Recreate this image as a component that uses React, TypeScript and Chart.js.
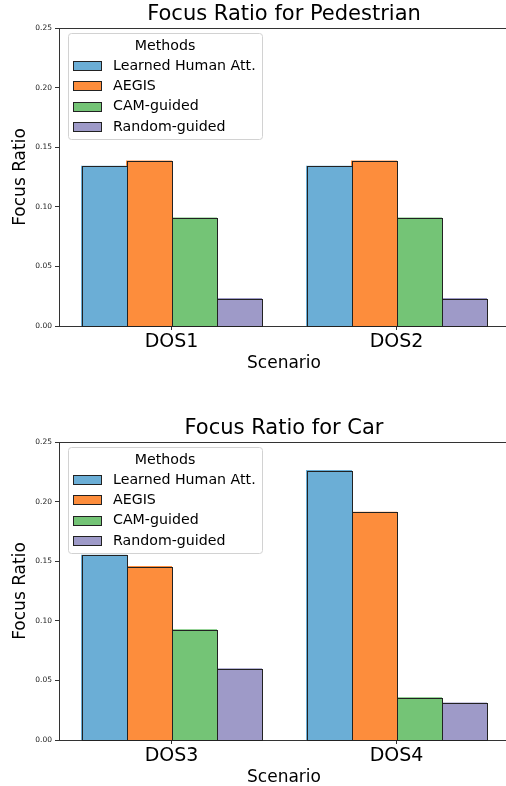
import React, { useEffect, useRef } from 'react';
import { Chart, registerables } from 'chart.js';

Chart.register(...registerables);

// ---------- data ----------
const pedTitle = 'Focus Ratio for Pedestrian';
const carTitle = 'Focus Ratio for Car';
const pedCategories = ['DOS1', 'DOS2'];
const carCategories = ['DOS3', 'DOS4'];
const methodNames = ['Learned Human Att.', 'AEGIS', 'CAM-guided', 'Random-guided'];
const methodColors = ['#6baed6', '#fd8d3c', '#74c476', '#9e9ac8'];
const legendTitle = 'Methods';
const xAxisTitle = 'Scenario';
const yAxisTitle = 'Focus Ratio';
const yTicks = [0, 0.05, 0.1, 0.15, 0.2, 0.25];

const pedLearned = [0.134, 0.134];
const pedAegis = [0.1385, 0.1385];
const pedCam = [0.0905, 0.0905];
const pedRandom = [0.023, 0.023];

const carLearned = [0.155, 0.226];
const carAegis = [0.1455, 0.191];
const carCam = [0.0925, 0.0355];
const carRandom = [0.0598, 0.031];

const FONT = "'DejaVu Sans', sans-serif";

// crisp outlines around each bar element (geometry from Chart.js elements)
const barOutline = {
  id: 'barOutline',
  afterDatasetsDraw(chart: any) {
    const { ctx } = chart;
    ctx.save();
    ctx.strokeStyle = '#222';
    ctx.lineWidth = 1;
    chart.getSortedVisibleDatasetMetas().forEach((meta: any) => {
      meta.data.forEach((el: any) => {
        const { x, y, base, width } = el.getProps(['x', 'y', 'base', 'width'], true);
        const l = Math.round(x - width / 2);
        const r = Math.round(x + width / 2);
        const t = Math.round(Math.min(y, base));
        const b = Math.round(Math.max(y, base));
        ctx.strokeRect(l + 0.5, t + 0.5, r - l, b - t);
      });
    });
    ctx.restore();
  },
};

const boxLegend = {
  id: 'boxLegend',
  afterDatasetsDraw(chart: any) {
    const { ctx, chartArea } = chart;
    const x = Math.round(chartArea.left + 9);
    const y = Math.round(chartArea.top + 5);
    const w = 194;
    const h = 106;
    ctx.save();
    ctx.beginPath();
    ctx.roundRect(x + 0.5, y + 0.5, w, h, 3);
    ctx.fillStyle = 'rgba(255,255,255,0.85)';
    ctx.fill();
    ctx.strokeStyle = '#d2d2d2';
    ctx.lineWidth = 1;
    ctx.stroke();
    ctx.fillStyle = '#000';
    ctx.font = `14.2px ${FONT}`;
    ctx.textBaseline = 'middle';
    ctx.textAlign = 'center';
    ctx.fillText(legendTitle, x + w / 2, y + 13);
    ctx.textAlign = 'left';
    chart.data.datasets.forEach((ds: any, i: number) => {
      const cy = y + 33 + i * 20.3;
      ctx.fillStyle = ds.backgroundColor;
      ctx.fillRect(x + 5, Math.round(cy - 5), 29, 10);
      ctx.strokeStyle = '#222';
      ctx.strokeRect(x + 5.5, Math.round(cy - 5) + 0.5, 28, 9);
      ctx.fillStyle = '#000';
      ctx.fillText(ds.label, x + 45, cy);
    });
    ctx.restore();
  },
};

const topSpine = {
  id: 'topSpine',
  afterDraw(chart: any) {
    const { ctx, chartArea } = chart;
    ctx.save();
    ctx.strokeStyle = '#333';
    ctx.lineWidth = 1;
    const yy = Math.floor(chartArea.top) + 0.5;
    ctx.beginPath();
    ctx.moveTo(chartArea.left, yy);
    ctx.lineTo(chartArea.right, yy);
    ctx.stroke();
    ctx.restore();
  },
};

const CANVAS_W = 509;
const CANVAS_H = 414;

function BarPanel({ title, categories, series }: { title: string; categories: string[]; series: number[][] }) {
  const ref = useRef<HTMLCanvasElement | null>(null);
  useEffect(() => {
    if (!ref.current) return;
    const chart = new Chart(ref.current, {
      type: 'bar',
      data: {
        labels: categories,
        datasets: series.map((vals, i) => ({
          label: methodNames[i],
          data: vals,
          backgroundColor: methodColors[i],
          borderWidth: 0,
          borderSkipped: false,
          inflateAmount: 0.5,
          categoryPercentage: 0.8,
          barPercentage: 1.0,
        })),
      },
      options: {
        responsive: false,
        animation: false,
        devicePixelRatio: 1,
        layout: { padding: 0 },
        plugins: {
          legend: { display: false },
          tooltip: { enabled: false },
          title: {
            display: true,
            text: title,
            fullSize: false,
            color: '#000',
            font: { family: FONT, size: 21, weight: 'normal', lineHeight: 1.2 },
            padding: { top: 1.5, bottom: 1.3 },
          },
        },
        scales: {
          x: {
            type: 'category',
            offset: true,
            grid: { offset: false, drawOnChartArea: false, drawTicks: true, tickLength: 4, tickColor: '#333' },
            border: { display: true, color: '#333', width: 1 },
            ticks: { color: '#000', font: { family: FONT, size: 19 }, padding: 1, maxRotation: 0 },
            title: {
              display: true,
              text: xAxisTitle,
              color: '#000',
              font: { family: FONT, size: 17 },
              padding: { top: 0, bottom: 40.5 },
            },
            afterFit: (s: any) => {
              s.height = 88;
            },
          },
          y: {
            min: 0,
            max: 0.25,
            afterBuildTicks: (s: any) => {
              s.ticks = yTicks.map((v) => ({ value: v }));
            },
            grid: { drawOnChartArea: false, drawTicks: true, tickLength: 4, tickColor: '#333' },
            border: { display: true, color: '#333', width: 1 },
            ticks: {
              color: '#222',
              font: { family: FONT, size: 7.5 },
              padding: 3,
              callback: (v: any) => Number(v).toFixed(2),
            },
            title: {
              display: true,
              text: yAxisTitle,
              color: '#000',
              font: { family: FONT, size: 17 },
              padding: { top: 10, bottom: 0 },
            },
            afterFit: (s: any) => {
              s.width = 59;
            },
          },
        },
      } as any,
      plugins: [barOutline, boxLegend, topSpine],
    });
    return () => chart.destroy();
  }, []);
  return (
    <canvas
      ref={ref}
      width={CANVAS_W}
      height={CANVAS_H}
      style={{ display: 'block', width: CANVAS_W, height: CANVAS_H }}
    />
  );
}

export default function App() {
  return (
    <div style={{ position: 'absolute', left: 0, top: 0, width: 506, height: 786, overflow: 'hidden', background: '#fff' }}>
      <div style={{ position: 'absolute', left: 0, top: 0, width: 506, height: 414, overflow: 'hidden' }}>
        <BarPanel title={pedTitle} categories={pedCategories} series={[pedLearned, pedAegis, pedCam, pedRandom]} />
      </div>
      <div style={{ position: 'absolute', left: 0, top: 414, width: 506, height: 372, overflow: 'hidden' }}>
        <BarPanel title={carTitle} categories={carCategories} series={[carLearned, carAegis, carCam, carRandom]} />
      </div>
    </div>
  );
}
